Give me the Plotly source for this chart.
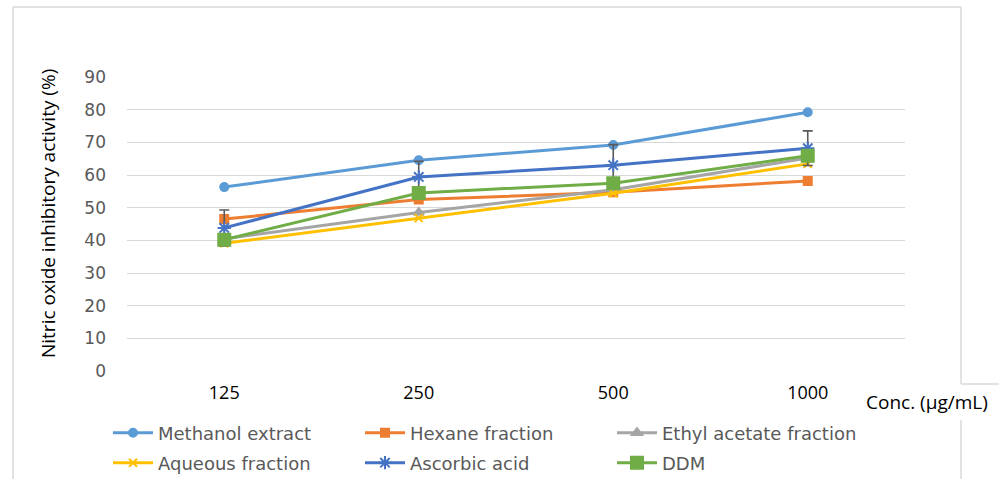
import plotly.graph_objects as go

# Concentrations tested (µg/mL)
concentrations = ["125", "250", "500", "1000"]

# Nitric oxide inhibitory activity (%)
methanol_extract = [56.3, 64.5, 69.2, 79.2]
hexane_fraction = [46.5, 52.5, 54.7, 58.2]
ethyl_acetate_fraction = [40.5, 48.5, 55.5, 65.2]
aqueous_fraction = [39.1, 46.8, 54.4, 63.4]
ascorbic_acid = [43.8, 59.4, 63.0, 68.2]
ddm = [40.2, 54.5, 57.5, 65.9]

# Standard deviation shown for ascorbic acid
ascorbic_acid_err = [5.5, 4.8, 6.3, 5.3]

y_ticks = [0, 10, 20, 30, 40, 50, 60, 70, 80, 90]

W, H = 999, 479
L, R, T, B = 127, 94, 77, 108
pw, ph = W - L - R, H - T - B


def px(x):
    return (x - L) / pw


def py(y):
    return (H - B - y) / ph


series = [
    ("Methanol extract", methanol_extract, "#5B9BD5", "circle", 8, "legend"),
    ("Hexane fraction", hexane_fraction, "#ED7D31", "square", 8, "legend"),
    ("Ethyl acetate fraction", ethyl_acetate_fraction, "#A5A5A5", "triangle-up", 9, "legend"),
    ("Aqueous fraction", aqueous_fraction, "#FFC000", "x-thin-open", 8, "legend2"),
    ("Ascorbic acid", ascorbic_acid, "#4472C4", "asterisk-open", 11, "legend2"),
    ("DDM", ddm, "#70AD47", "square", 12, "legend2"),
]

fig = go.Figure()
for name, vals, color, sym, size, leg in series:
    kw = {}
    if name == "Ascorbic acid":
        kw["error_y"] = dict(type="data", array=ascorbic_acid_err, visible=True,
                             color="#595959", thickness=1.6, width=5)
    fig.add_trace(go.Scatter(
        x=concentrations, y=vals, name=name, mode="lines+markers",
        line=dict(color=color, width=3),
        marker=dict(color=color, symbol=sym, size=size,
                    line=dict(color=color, width=2)),
        legend=leg, **kw))

legend_common = dict(
    orientation="h", xanchor="left", yanchor="middle",
    font=dict(family="DejaVu Sans", size=18, color="#595959"),
    entrywidth=197, entrywidthmode="pixels",
    bgcolor="rgba(0,0,0,0)", itemwidth=40, traceorder="normal",
)

fig.update_layout(
    width=W, height=H,
    margin=dict(l=L, r=R, t=T, b=B, pad=0, autoexpand=False),
    paper_bgcolor="white", plot_bgcolor="white",
    showlegend=True,
    legend=dict(x=px(108), y=py(433), **legend_common),
    legend2=dict(x=px(108), y=py(463), **legend_common),
    xaxis=dict(
        type="category", range=[-0.5, 3.5], showgrid=False, zeroline=False,
        showline=False, ticks="", ticklabelstandoff=9,
        tickfont=dict(family="Open Sans", size=18, color="#000000"),
    ),
    yaxis=dict(
        range=[0, 90], tickvals=y_ticks, showgrid=True, gridcolor="#D9D9D9",
        gridwidth=1, zeroline=False, showline=False, ticks="",
        ticklabelstandoff=20,
        tickfont=dict(family="DejaVu Sans", size=17, color="#595959"),
    ),
)

# Axis titles
fig.add_annotation(
    text="Nitric oxide inhibitory activity (%)", textangle=-90,
    xref="paper", yref="paper", x=px(48), y=py(214),
    xanchor="center", yanchor="middle", showarrow=False,
    font=dict(family="Open Sans", size=19, color="#000000"))
fig.add_annotation(
    text="Conc. (µg/mL)", xref="paper", yref="paper", x=px(864), y=py(402),
    xanchor="left", yanchor="middle", showarrow=False,
    font=dict(family="Open Sans", size=19, color="#000000"))

# Chart frame
frame = dict(type="line", xref="paper", yref="paper",
             line=dict(color="#D9D9D9", width=1.5), layer="below")
fig.add_shape(x0=px(13), x1=px(961), y0=py(7), y1=py(7), **frame)
fig.add_shape(x0=px(13), x1=px(13), y0=py(7), y1=py(479), **frame)
fig.add_shape(x0=px(961), x1=px(961), y0=py(7), y1=py(384), **frame)
fig.add_shape(x0=px(961), x1=px(999), y0=py(384), y1=py(384), **frame)
fig.add_shape(x0=px(961), x1=px(961), y0=py(420), y1=py(479), **frame)

fig.write_html("out.html")
